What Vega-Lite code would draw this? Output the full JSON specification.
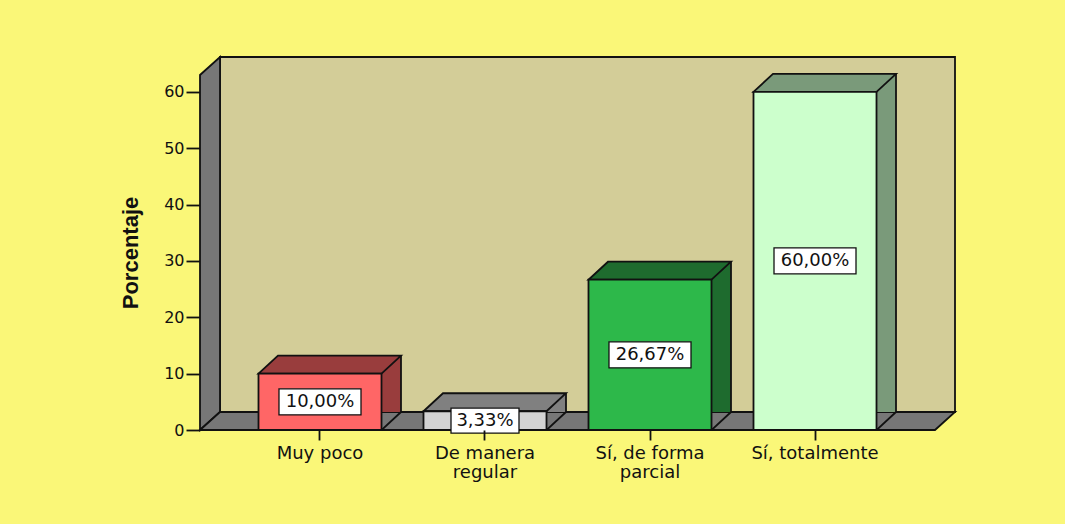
{
  "$schema": "https://vega.github.io/schema/vega-lite/v6.json",
  "width": 735,
  "height": 355,
  "autosize": "none",
  "padding": {"left": 200, "top": 75, "right": 130, "bottom": 94},
  "background": "#FAF778",
  "config": {
    "view": {"stroke": null},
    "axisY": {
      "title": "Porcentaje", "titleFont": "Liberation Sans", "titleFontWeight": "bold",
      "titleFontSize": 22, "titleColor": "#111111", "titlePadding": 21,
      "labelFont": "DejaVu Sans", "labelFontSize": 16,
      "labelColor": "#111111", "labelPadding": 2, "tickSize": 14, "tickWidth": 1.8,
      "tickColor": "#111111", "domain": false, "grid": false, "zindex": 1
    }
  },
  "data": {"values": [
    {"respuesta": "Muy poco", "porcentaje": 10.00},
    {"respuesta": "De manera regular", "porcentaje": 3.33},
    {"respuesta": "Sí, de forma parcial", "porcentaje": 26.67},
    {"respuesta": "Sí, totalmente", "porcentaje": 60.00}
  ]},
  "transform": [
    {"calculate": "replace(format(datum.porcentaje, '.2f'), '.', ',') + '%'", "as": "etiqueta"},
    {"calculate": "datum.porcentaje / 2", "as": "medio"}
  ],
  "encoding": {
    "x": {
      "field": "respuesta", "type": "nominal",
      "sort": ["Muy poco", "De manera regular", "Sí, de forma parcial", "Sí, totalmente"],
      "scale": {"type": "band", "paddingInner": 0.2545, "paddingOuter": 0.3545},
      "axis": {
        "title": null, "labelAngle": 0, "labelFont": "DejaVu Sans", "labelFontSize": 18,
        "labelColor": "#111111", "labelPadding": 4, "labelLineHeight": 19,
        "tickSize": 10, "tickWidth": 1.8, "tickColor": "#111111", "domain": false, "zindex": 1,
        "labelExpr": "datum.value == 'De manera regular' ? ['De manera', 'regular'] : datum.value == 'Sí, de forma parcial' ? ['Sí, de forma', 'parcial'] : datum.label"
      }
    },
    "y": {
      "field": "porcentaje", "type": "quantitative", "title": "Porcentaje",
      "scale": {"domain": [0, 63], "nice": false, "zero": true},
      "axis": {"values": [0, 10, 20, 30, 40, 50, 60]}
    }
  },
  "layer": [
    {
      "data": {"values": [{}]},
      "mark": {"type": "rect", "fill": "#D3CD98", "stroke": "#111111", "strokeWidth": 1.8,
        "xOffset": 20, "x2Offset": 20, "yOffset": -18, "y2Offset": -18},
      "encoding": {"x": {"value": 0}, "x2": {"value": "width"}, "y": {"value": 0}, "y2": {"value": "height"}}
    },
    {
      "data": {"values": [{}]},
      "mark": {"type": "point", "shape": "M0,0L0,-355L20,-373L20,-18Z", "size": 4, "filled": true,
        "fill": "#777777", "stroke": "#111111", "strokeWidth": 1.8, "opacity": 1},
      "encoding": {"x": {"value": 0}, "y": {"value": "height"}}
    },
    {
      "data": {"values": [{}]},
      "mark": {"type": "point", "shape": "M0,0L20,-18L755,-18L735,0Z", "size": 4, "filled": true,
        "fill": "#777777", "stroke": "#111111", "strokeWidth": 1.8, "opacity": 1},
      "encoding": {"x": {"value": 0}, "y": {"value": "height"}}
    },
    {
      "mark": {"type": "bar", "width": 19.5, "xOffset": 71.25, "yOffset": -18},
      "encoding": {
        "fill": {"field": "respuesta", "type": "nominal", "legend": null,
          "scale": {"domain": ["Muy poco", "De manera regular", "Sí, de forma parcial", "Sí, totalmente"],
            "range": ["#993D3D", "#808080", "#1E6B2E", "#7A9A7A"]}}
      }
    },
    {
      "mark": {"type": "point", "shape": "M-61.5,0L-42,-18L81,-18L61.5,0Z", "size": 4, "filled": true,
        "stroke": "#111111", "strokeWidth": 1.8, "opacity": 1},
      "encoding": {
        "fill": {"field": "respuesta", "type": "nominal", "legend": null,
          "scale": {"domain": ["Muy poco", "De manera regular", "Sí, de forma parcial", "Sí, totalmente"],
            "range": ["#993D3D", "#808080", "#1E6B2E", "#7A9A7A"]}}
      }
    },
    {
      "mark": {"type": "point", "shape": "M81,0L61.5,0L81,-18", "size": 4, "filled": true,
        "fill": "#777777", "stroke": "#111111", "strokeWidth": 1.8, "opacity": 1},
      "encoding": {"y": {"datum": 0}}
    },
    {
      "mark": {"type": "rule", "xOffset": 81, "yOffset": -18, "y2Offset": -18, "stroke": "#111111", "strokeWidth": 1.8},
      "encoding": {"y2": {"datum": 0}}
    },
    {
      "mark": {"type": "bar", "stroke": "#111111", "strokeWidth": 1.8},
      "encoding": {
        "fill": {"field": "respuesta", "type": "nominal", "legend": null,
          "scale": {"domain": ["Muy poco", "De manera regular", "Sí, de forma parcial", "Sí, totalmente"],
            "range": ["#FF6666", "#D3D3D3", "#2DB84A", "#CCFFCC"]}}
      }
    },
    {
      "mark": {"type": "point", "size": 4, "filled": true, "fill": "white", "stroke": "#111111",
        "strokeWidth": 1.3, "opacity": 1},
      "encoding": {
        "y": {"field": "medio", "type": "quantitative", "title": "Porcentaje",
          "axis": {"values": [0, 10, 20, 30, 40, 50, 60]}},
        "shape": {"condition": {"test": "length(datum.etiqueta) > 5", "value": "M-41,-13L41,-13L41,13L-41,13Z"},
          "value": "M-34,-12.5L34,-12.5L34,12.5L-34,12.5Z"}
      }
    },
    {
      "mark": {"type": "text", "font": "DejaVu Sans", "fontSize": 18, "baseline": "middle", "align": "center", "fill": "#111111"},
      "encoding": {
        "y": {"field": "medio", "type": "quantitative", "title": "Porcentaje",
          "axis": {"values": [0, 10, 20, 30, 40, 50, 60]}},
        "text": {"field": "etiqueta", "type": "nominal"}
      }
    }
  ],
  "resolve": {"scale": {"fill": "independent"}}
}
